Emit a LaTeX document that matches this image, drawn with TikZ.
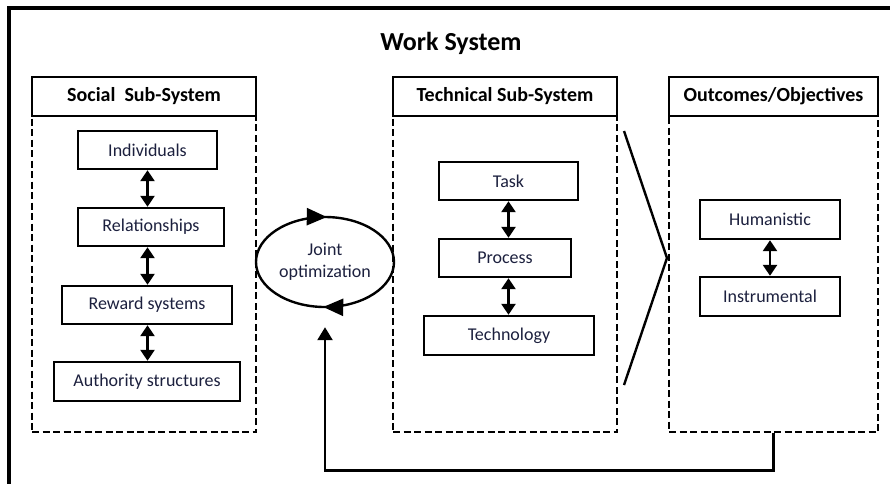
\documentclass[tikz,border=0pt]{standalone}
\usepackage{fontspec}
\setmainfont{Carlito}
\usetikzlibrary{arrows.meta,decorations.markings,shapes.geometric,calc}
\definecolor{labelnavy}{RGB}{28,32,62}
\tikzset{
  frameline/.style={line width=3.5pt},
  itembox/.style={draw, line width=2.4pt, fill=white, inner sep=0pt,
    text=labelnavy, font=\fontsize{18}{21}\selectfont},
  headbox/.style={draw, line width=2.4pt, fill=white, inner sep=0pt,
    font=\fontsize{20}{23}\selectfont\bfseries},
  bodybox/.style={draw, line width=2.6pt, dash pattern=on 7pt off 3.5pt, inner sep=0pt},
  linkarrow/.style={line width=2.6pt,
    {Triangle[width=14pt,length=11pt]}-{Triangle[width=14pt,length=11pt]}},
  loopline/.style={line width=2.4pt},
}
\begin{document}
\begin{tikzpicture}[x=1pt,y=-1pt]
\useasboundingbox (0,0) rectangle (890,483);
\clip (0,0) rectangle (890,483);

% outer frame of the work system
\draw[frameline] (9,8) rectangle (905,500);
\node[font=\fontsize{26}{30}\selectfont\bfseries] (title) at (451,43) {Work System};

% social sub-system
\node[bodybox, minimum width=224pt, minimum height=316pt] (sbody) at (144,274) {};
\node[headbox, minimum width=224pt, minimum height=39pt] (shead) at (144,96.5) {Social\ \ Sub-System};
\node[itembox, minimum width=139pt, minimum height=38pt] (ind) at (147.5,150) {Individuals};
\node[itembox, minimum width=146pt, minimum height=38pt] (rel) at (151,227) {Relationships};
\node[itembox, minimum width=170pt, minimum height=38pt] (rew) at (147,305) {Reward systems};
\node[itembox, minimum width=186pt, minimum height=39pt] (aut) at (147,381.5) {Authority structures};
\draw[linkarrow] (ind.south) -- (ind.south |- rel.north);
\draw[linkarrow] (ind.south |- rel.south) -- (ind.south |- rew.north);
\draw[linkarrow] (ind.south |- rew.south) -- (ind.south |- aut.north);

% technical sub-system
\node[bodybox, minimum width=224pt, minimum height=316pt] (tbody) at (505,274) {};
\node[headbox, minimum width=224pt, minimum height=39pt] (thead) at (505,96.5) {Technical Sub-System};
\node[itembox, minimum width=139pt, minimum height=38pt] (task) at (508.5,181) {Task};
\node[itembox, minimum width=132pt, minimum height=38pt] (proc) at (505,258) {Process};
\node[itembox, minimum width=170pt, minimum height=39pt] (tech) at (509,335.5) {Technology};
\draw[linkarrow] (task.south) -- (task.south |- proc.north);
\draw[linkarrow] (task.south |- proc.south) -- (task.south |- tech.north);

% outcomes / objectives
\node[bodybox, minimum width=209pt, minimum height=316pt] (obody) at (773.5,274) {};
\node[headbox, minimum width=209pt, minimum height=39pt] (ohead) at (773.5,96.5) {Outcomes/Objectives};
\node[itembox, minimum width=140pt, minimum height=39pt] (hum) at (770,219.5) {Humanistic};
\node[itembox, minimum width=140pt, minimum height=39pt] (ins) at (770,296.5) {Instrumental};
\draw[linkarrow] (hum.south) -- (hum.south |- ins.north);

% funnel from technical sub-system to outcomes
\draw[line width=2.4pt, line join=miter] (624,131) -- (667,258) -- (624,385);

% joint optimization loop (clockwise on the page)
\node[ellipse, minimum width=138pt, minimum height=90pt, inner sep=0pt,
  align=center, text=labelnavy, font=\fontsize{18}{22}\selectfont] (jo) at (325,262)
  {Joint\\optimization};
\draw[loopline, decoration={markings,
    mark=at position 0.245 with {\arrowreversed{Triangle[width=17pt,length=20pt]}},
    mark=at position 0.745 with {\arrowreversed{Triangle[width=17pt,length=20pt]}}},
  postaction={decorate}] (jo.center) ellipse [x radius=69pt, y radius=45pt];

% feedback from outcomes to the joint optimization
\draw[loopline, -{Triangle[width=15pt,length=13pt]}, shorten >=20pt]
  (obody.south) -- ++(0,37) -| (jo.south);
\end{tikzpicture}
\end{document}
